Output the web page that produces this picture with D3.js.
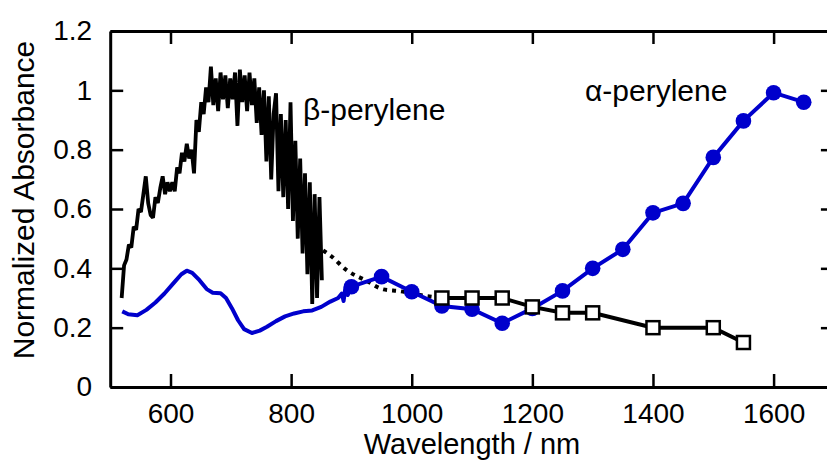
<!DOCTYPE html>
<html>
<head>
<meta charset="utf-8">
<script src="https://cdn.jsdelivr.net/npm/d3@7"></script>
<style>
  body { margin: 0; background: #fff; }
  text { font-family: "Liberation Sans", Arial, sans-serif; }
</style>
</head>
<body>
<div id="chart"></div>
<script>
// beta-perylene spectrum (noisy, black)
var betaWl = [519,523,527,531,535,539,543,547,551,555,559,563,567,571,575,579,583,587,591,595,
  599,603,607,611,615,619,623,627,631,635,639,643,647,651,655,659,663,667,671,675,
  679,683,687,691,695,699,703,707,711,715,719,723,727,731,735,739,743,747,751,755,
  759,763,767,771,775,779,783,787,791,795,799,803,807,811,815,819,823,827,831,835,
  839,843,847,851]
var betaAbs = [0.30,0.41,0.43,0.48,0.47,0.54,0.53,0.60,0.59,0.65,0.71,0.62,0.58,0.57,0.64,0.62,0.67,0.71,0.65,0.69,
  0.66,0.69,0.66,0.74,0.72,0.79,0.76,0.82,0.77,0.80,0.72,0.90,0.86,0.96,0.92,1.01,0.96,1.08,0.95,1.04,
  0.93,1.06,0.97,1.05,0.94,1.04,0.97,1.06,0.88,1.07,0.96,1.05,0.93,1.06,0.95,1.04,0.89,1.01,0.85,1.00,
  0.76,0.98,0.70,0.92,0.99,0.66,0.92,0.64,0.90,0.60,0.96,0.56,0.83,0.50,0.77,0.45,0.72,0.38,0.69,0.28,
  0.65,0.30,0.64,0.36]

// alpha-perylene spectrum (blue, thin)
var alphaWl = [520,530,545,560,575,590,605,618,627,636,648,660,670,683,692,702,712,722,735,748,
  760,775,790,805,820,835,850,865,878,884,887,890,894,898]
var alphaAbs = [0.255,0.245,0.242,0.26,0.285,0.315,0.35,0.38,0.392,0.385,0.36,0.33,0.318,0.316,0.30,0.265,0.225,0.195,0.182,0.19,
  0.203,0.222,0.238,0.248,0.255,0.258,0.27,0.288,0.30,0.315,0.29,0.335,0.31,0.34]

// alpha-perylene points (blue dots)
var alphaPtWl = [900,950,1000,1050,1100,1150,1200,1250,1300,1350,1400,1450,1500,1550,1600,1650]
var alphaPtAbs = [0.338,0.372,0.321,0.273,0.262,0.215,0.265,0.324,0.40,0.464,0.587,0.619,0.774,0.897,0.992,0.960]

// beta-perylene points (open squares)
var betaPtWl = [1050,1100,1150,1200,1250,1300,1400,1500,1550]
var betaPtAbs = [0.30,0.30,0.30,0.27,0.25,0.25,0.20,0.20,0.15]

// dotted link between spectrum and squares
var linkWl = [853,864,892,925,953,980,1014,1050]
var linkAbs = [0.46,0.445,0.394,0.358,0.329,0.323,0.31,0.30]

var xTicks = [600,800,1000,1200,1400,1600]
var yTicks = [0,0.2,0.4,0.6,0.8,1,1.2]

var blue = "#0000cc"
var W = 827, H = 461
var x0 = 110.2, x1 = 833.9, y0 = 387, y1 = 31

var svg = d3.select("#chart").append("svg")
  .attr("width", W)
  .attr("height", H)

var x = d3.scaleLinear().domain([500, 1700]).range([x0, x1])
var y = d3.scaleLinear().domain([0, 1.2]).range([y0, y1])

function pairs(a, b) {
  return a.map(function(d, i) { return [d, b[i]] })
}
var line = d3.line()
  .x(function(d) { return x(d[0]) })
  .y(function(d) { return y(d[1]) })

// blue spectrum
svg.append("path")
  .datum(pairs(alphaWl, alphaAbs))
  .attr("fill", "none")
  .attr("stroke", blue)
  .attr("stroke-width", 4)
  .attr("stroke-linejoin", "round")
  .attr("d", line)

// black noisy spectrum
svg.append("path")
  .datum(pairs(betaWl, betaAbs))
  .attr("fill", "none")
  .attr("stroke", "#000")
  .attr("stroke-width", 3.8)
  .attr("stroke-linejoin", "bevel")
  .attr("d", line)

// dotted link
svg.append("path")
  .datum(pairs(linkWl, linkAbs))
  .attr("fill", "none")
  .attr("stroke", "#000")
  .attr("stroke-width", 4)
  .attr("stroke-dasharray", "4,5")
  .attr("d", d3.line().curve(d3.curveMonotoneX).x(function(d) { return x(d[0]) }).y(function(d) { return y(d[1]) }))

// blue points line
svg.append("path")
  .datum(pairs(alphaPtWl, alphaPtAbs))
  .attr("fill", "none")
  .attr("stroke", blue)
  .attr("stroke-width", 4)
  .attr("d", line)

svg.selectAll(".adot")
  .data(pairs(alphaPtWl, alphaPtAbs))
  .enter()
  .append("circle")
    .attr("fill", blue)
    .attr("cx", function(d) { return x(d[0]) })
    .attr("cy", function(d) { return y(d[1]) })
    .attr("r", 7.8)

// black squares line
svg.append("path")
  .datum(pairs(betaPtWl, betaPtAbs))
  .attr("fill", "none")
  .attr("stroke", "#000")
  .attr("stroke-width", 4)
  .attr("d", line)

svg.selectAll(".bsq")
  .data(pairs(betaPtWl, betaPtAbs))
  .enter()
  .append("rect")
    .attr("fill", "#fff")
    .attr("stroke", "#000")
    .attr("stroke-width", 2.5)
    .attr("x", function(d) { return x(d[0]) - 6.5 })
    .attr("y", function(d) { return y(d[1]) - 6.5 })
    .attr("width", 13)
    .attr("height", 13)

// axes, ticks pointing inward
var tickLen = 13
function styleAxis(g) {
  g.select(".domain").attr("stroke-width", 3)
  g.selectAll(".tick line").attr("stroke-width", 2.5)
  g.selectAll(".tick text")
    .attr("font-size", "28px")
    .attr("font-family", "Liberation Sans, Arial, sans-serif")
    .attr("fill", "#000")
}

svg.append("g")
  .attr("transform", "translate(0," + y0 + ")")
  .call(d3.axisBottom(x).tickValues(xTicks).tickSizeInner(-tickLen).tickSizeOuter(0).tickPadding(16)
    .tickFormat(d3.format("d")))
  .call(styleAxis)

svg.append("g")
  .attr("transform", "translate(0," + y1 + ")")
  .call(d3.axisTop(x).tickValues(xTicks).tickSizeInner(-tickLen).tickSizeOuter(0).tickFormat(""))
  .call(styleAxis)

svg.append("g")
  .attr("transform", "translate(" + x0 + ",0)")
  .call(d3.axisLeft(y).tickValues(yTicks).tickSizeInner(-tickLen).tickSizeOuter(0).tickPadding(18)
    .tickFormat(function(d) { return d3.format("~g")(d) }))
  .call(styleAxis)

svg.append("g")
  .attr("transform", "translate(" + x1 + ",0)")
  .call(d3.axisRight(y).tickValues(yTicks).tickSizeInner(-tickLen).tickSizeOuter(0).tickFormat(""))
  .call(styleAxis)

// labels
svg.append("text")
  .attr("x", 303)
  .attr("y", 120)
  .style("font-size", "30px")
  .text("β-perylene")

svg.append("text")
  .attr("x", 585)
  .attr("y", 101)
  .style("font-size", "30px")
  .text("α-perylene")

svg.append("text")
  .attr("transform", "translate(34,200) rotate(-90)")
  .attr("text-anchor", "middle")
  .style("font-size", "30px")
  .text("Normalized Absorbance")

svg.append("text")
  .attr("x", 472)
  .attr("y", 454)
  .attr("text-anchor", "middle")
  .style("font-size", "29px")
  .text("Wavelength / nm")
</script>
</body>
</html>
